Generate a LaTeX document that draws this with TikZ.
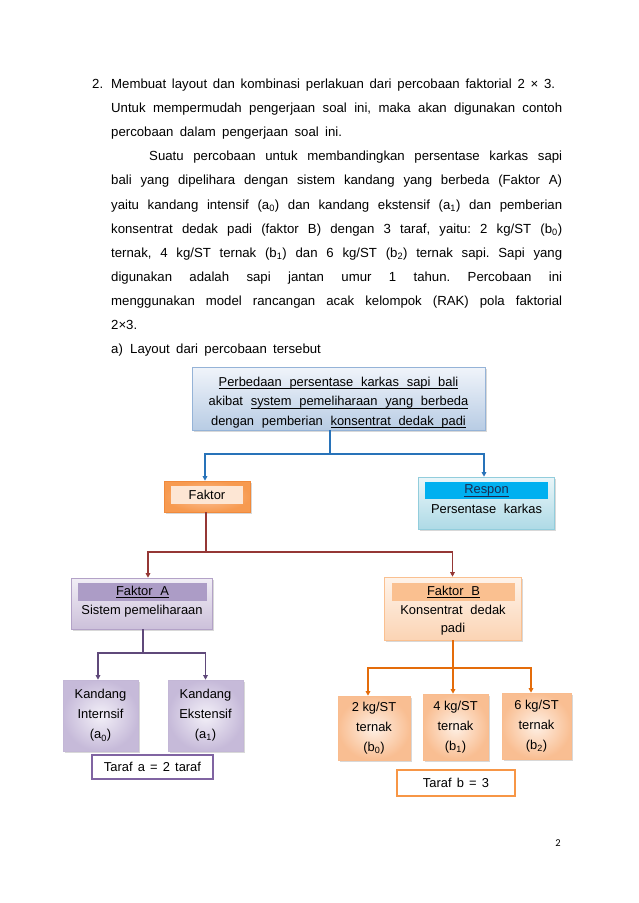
\documentclass[tikz,border=0pt]{standalone}
\usepackage{fontspec}
\setmainfont{Liberation Sans}
\newfontfamily\pagefont{Carlito}
\usetikzlibrary{shadows,arrows.meta}
\frenchspacing
\newsavebox\ulbox
\newcommand\myul[1]{\leavevmode\sbox\ulbox{#1}\rlap{\raisebox{-2.6pt}{\rule{\wd\ulbox}{0.55pt}}}\usebox\ulbox}
\definecolor{blueC}{RGB}{40,115,185}
\definecolor{redC}{HTML}{953735}
\definecolor{purpleC}{HTML}{5F497A}
\definecolor{orangeC}{HTML}{E46C0A}
\definecolor{topbd}{HTML}{95B3D7}
\definecolor{topT}{HTML}{F0F4FA}
\definecolor{topB}{HTML}{B8CCE4}
\definecolor{resbd}{HTML}{92CDDC}
\definecolor{resT}{HTML}{EAF6F9}
\definecolor{resB}{HTML}{AEDAE6}
\definecolor{resH}{HTML}{00B0F0}
\definecolor{resTx}{HTML}{1A2A50}
\definecolor{fakbd}{HTML}{F08A3C}
\definecolor{fakO}{HTML}{F79A50}
\definecolor{fakI}{HTML}{FBC29A}
\definecolor{fakIn}{HTML}{FDE6D4}
\definecolor{fabd}{HTML}{B3A2C7}
\definecolor{faT}{HTML}{F1EEF6}
\definecolor{faB}{HTML}{CCC0DA}
\definecolor{faH}{HTML}{AC9CC6}
\definecolor{kO}{HTML}{C6BAD9}
\definecolor{kI}{HTML}{F3F0F8}
\definecolor{kbd}{HTML}{C3B7D6}
\definecolor{fbbd}{HTML}{FAC090}
\definecolor{fbT}{HTML}{FEF3EA}
\definecolor{fbB}{HTML}{FBD4B4}
\definecolor{fbH}{HTML}{FAC090}
\definecolor{bO}{HTML}{F9BE92}
\definecolor{bI}{HTML}{FEF0E5}
\definecolor{bbd}{HTML}{F9BC8E}
\definecolor{tarA}{HTML}{8064A2}
\definecolor{tarB}{HTML}{F79646}
\newcommand\bodyfont{\fontsize{13.2}{15}\selectfont\spaceskip=0.48em plus 0.6em minus 0.1em\relax}
\newcommand\boxfont{\fontsize{12.9}{19.5}\selectfont}
\newcommand\widesp{\spaceskip=0.6em\relax}
\newcommand\midsp{\spaceskip=0.4em\relax}
\newcommand\kfont{\fontsize{12.9}{20}\selectfont}
\begin{document}
\begin{tikzpicture}[x=1pt,y=-1pt,
  ln/.style={anchor=base west, inner sep=0pt, font=\bodyfont},
  box/.style={draw, inner sep=0pt, line width=0.6pt,
    drop shadow={shadow xshift=1.5pt, shadow yshift=-1.5pt, opacity=0.3}},
  hdr/.style={inner sep=0pt, font=\boxfont},
  tx/.style={inner sep=0pt, font=\boxfont, align=center},
  conn/.style={line width=1.3pt},
  arr/.style={-{Triangle[length=4.5pt,width=4.5pt]}},
  taraf/.style={draw, fill=white, line width=2.2pt, inner sep=0pt, font=\boxfont\midsp}]
\useasboundingbox[fill=white] (0,0) rectangle (638,903);

% paragraph text
\node[ln] (n2) at (92,88.5) {2.};
\node[ln] (l1) at (111,88.5) {\makebox[444pt][s]{Membuat layout dan kombinasi perlakuan dari percobaan faktorial 2 × 3.}};
\node[ln] (l2) at (111,112.6) {\makebox[451pt][s]{Untuk mempermudah pengerjaan soal ini, maka akan digunakan contoh}};
\node[ln] (l3) at (111,136.7) {percobaan dalam pengerjaan soal ini.};
\node[ln] (l4) at (149,160.8) {\makebox[413pt][s]{Suatu percobaan untuk membandingkan persentase karkas sapi}};
\node[ln] (l5) at (111,184.9) {\makebox[451pt][s]{bali yang dipelihara dengan sistem kandang yang berbeda (Faktor A)}};
\node[ln] (l6) at (111,209.0) {\makebox[451pt][s]{yaitu kandang intensif (a\textsubscript{0}) dan kandang ekstensif (a\textsubscript{1}) dan pemberian}};
\node[ln] (l7) at (111,233.1) {\makebox[451pt][s]{konsentrat dedak padi (faktor B) dengan 3 taraf, yaitu: 2 kg/ST (b\textsubscript{0})}};
\node[ln] (l8) at (111,257.2) {\makebox[451pt][s]{ternak, 4 kg/ST ternak (b\textsubscript{1}) dan 6 kg/ST (b\textsubscript{2}) ternak sapi. Sapi yang}};
\node[ln] (l9) at (111,281.3) {\makebox[451pt][s]{digunakan adalah sapi jantan umur 1 tahun. Percobaan ini}};
\node[ln] (l10) at (111,305.4) {\makebox[451pt][s]{menggunakan model rancangan acak kelompok (RAK) pola faktorial}};
\node[ln] (l11) at (111,329.5) {2×3.};
\node[ln] (la) at (111,353.6) {a)};
\node[ln] (l12) at (130,353.6) {Layout dari percobaan tersebut};

% top box
\node[box, draw=topbd, top color=topT, bottom color=topB, minimum width=293pt, minimum height=63pt] (top) at (338.5,398.5) {};
\node[tx, font=\boxfont\widesp] (topt) at (338.5,402.5)
  {\myul{Perbedaan persentase karkas sapi bali}\\ akibat \myul{system pemeliharaan yang berbeda}\\ dengan pemberian \myul{konsentrat dedak padi}};

% faktor
\node[box, draw=fakbd, inner color=fakI, outer color=fakO, minimum width=86pt, minimum height=31pt] (faktor) at (207,496.5) {};
\node[hdr, fill=fakIn, minimum width=72pt, minimum height=18pt] (fakt) at (207,495) {Faktor};

% respon
\node[box, draw=resbd, top color=resT, bottom color=resB, minimum width=136pt, minimum height=52pt] (respon) at (486,503) {};
\node[hdr, fill=resH, minimum width=123pt, minimum height=17pt, text=resTx] (resh) at (486.5,490.5) {\myul{Respon}};
\node[tx, anchor=base, font=\boxfont\widesp] (rest) at (486.5,513) {Persentase karkas};

% faktor A
\node[box, draw=fabd, top color=faT, bottom color=faB, minimum width=141pt, minimum height=51pt] (fa) at (141.5,603.5) {};
\node[hdr, fill=faH, minimum width=129pt, minimum height=18pt, font=\boxfont\widesp] (fah) at (142.5,592) {\myul{Faktor A}};
\node[tx, anchor=base] (fat) at (142,614.5) {Sistem pemeliharaan};

% faktor B
\node[box, draw=fbbd, top color=fbT, bottom color=fbB, minimum width=137pt, minimum height=63pt] (fb) at (452.5,608.5) {};
\node[hdr, fill=fbH, minimum width=123pt, minimum height=18pt, font=\boxfont\widesp] (fbh) at (453.5,592) {\myul{Faktor B}};
\node[tx, font=\fontsize{12.9}{18}\selectfont\widesp] (fbt) at (453,620) {Konsentrat dedak\\padi};

% kandang boxes
\node[box, draw=kbd, inner color=kI, outer color=kO, minimum width=75pt, minimum height=71pt, align=center, font=\kfont] (k1) at (100.5,715.5)
  {Kandang\\Internsif\\(a\textsubscript{0})};
\node[box, draw=kbd, inner color=kI, outer color=kO, minimum width=75pt, minimum height=71pt, align=center, font=\kfont] (k2) at (205.5,715.5)
  {Kandang\\Ekstensif\\(a\textsubscript{1})};
\node[taraf, draw=tarA, minimum width=121pt, minimum height=24pt] (ta) at (152.5,767) {Taraf a = 2 taraf};

% b boxes
\node[box, draw=bbd, inner color=bI, outer color=bO, minimum width=72pt, minimum height=64pt, align=center, font=\kfont] (b0) at (374,728)
  {2 kg/ST\\ternak\\(b\textsubscript{0})};
\node[box, draw=bbd, inner color=bI, outer color=bO, minimum width=65pt, minimum height=66pt, align=center, font=\kfont] (b1) at (455.5,727)
  {4 kg/ST\\ternak\\(b\textsubscript{1})};
\node[box, draw=bbd, inner color=bI, outer color=bO, minimum width=69pt, minimum height=66pt, align=center, font=\kfont] (b2) at (536.5,726)
  {6 kg/ST\\ternak\\(b\textsubscript{2})};
\node[taraf, draw=tarB, minimum width=118pt, minimum height=26pt] (tb) at (456,783) {Taraf b = 3};

% connectors
\coordinate (jb) at (330,454);
\draw[conn, blueC] (top.south -| jb) -- (jb);
\draw[conn, blueC, arr] (jb) -| ([xshift=-2pt]faktor.north);
\draw[conn, blueC, arr] (jb) -| ([xshift=-2pt]respon.north);

\coordinate (jr) at (206,552);
\draw[conn, redC] (faktor.south -| jr) -- (jr);
\draw[conn, redC, arr] (jr) -| ([xshift=6.5pt]fa.north);
\draw[conn, redC, arr] (jr) -| (fb.north);

\coordinate (jp) at (143,653);
\draw[conn, purpleC] (fa.south -| jp) -- (jp);
\draw[conn, purpleC, arr] (jp) -| ([xshift=-2.5pt]k1.north);
\draw[conn, purpleC, arr] (jp) -| (k2.north);

\coordinate (jo) at (453,668);
\draw[conn, orangeC] (fb.south -| jo) -- (jo);
\draw[conn, orangeC, arr] (jo) -| ([xshift=-6pt]b0.north);
\draw[conn, orangeC, arr] (jo) -| ([xshift=-2.5pt]b1.north);
\draw[conn, orangeC, arr] (jo) -| ([xshift=-5.5pt]b2.north);

% page number
\node[inner sep=0pt, font=\pagefont\fontsize{10.5}{12}\selectfont] (pg) at (558,843) {2};
\end{tikzpicture}
\end{document}
